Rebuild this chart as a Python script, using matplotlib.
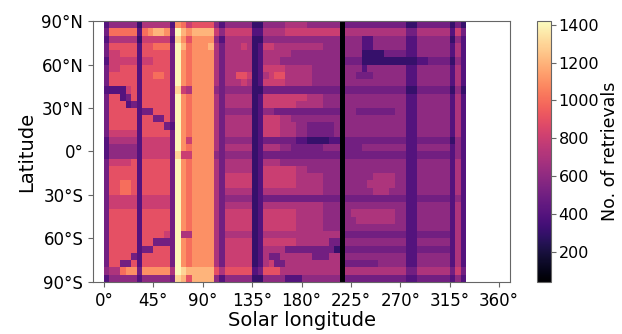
import numpy as np
import matplotlib
matplotlib.use("Agg")
import matplotlib.pyplot as plt

# Ls bins (5 deg) and latitude bins (5 deg), rows listed from 90N down to 90S
ls_edges = np.arange(0, 335, 5)
lat_edges = np.arange(90, -95, -5)

# one char per cell, hex digit * 100 retrievals ('0' = ~40)
rows = [
    "4 66666 3 77777 4 b a 8 9999 6 4 66666 33 66667777666666 0 55555555555 33 555555 3 5 3",
    "5 aaaaa 4 abccb 5 e c b cccc 8 6 88888 44 77778888888888 0 77777777777 55 777777 4 8 5",
    "4 77777 3 88888 4 d b 9 bbbb 6 4 77777 33 66666666666666 0 66644666666 44 666666 3 6 4",
    "5 99999 4 99aaa 5 e c a bbbc 7 5 77787 34 88777777777666 0 66644666666 44 666666 4 7 4",
    "5 88999 4 99999 5 e b a bbbb 7 5 77777 34 77777666666666 0 66633335555 44 666666 4 7 4",
    "4 88888 4 88999 5 e b a bbbb 7 5 77777 34 77766666666666 0 55533333333 33 445555 3 6 4",
    "5 88999 4 99999 5 e b a bbbb 7 5 77777 34 88887777766666 0 66646666666 44 666666 4 7 4",
    "5 99999 4 99aa9 5 e b a bbbb 7 5 77998 34 78997777766666 0 66555666666 44 666666 4 7 4",
    "5 99999 4 99999 5 e b a bbbb 7 5 77787 34 88887777766666 0 66666666666 44 666666 4 7 4",
    "4 44489 4 99999 5 d 8 7 bbbb 6 5 66666 33 55555555555555 0 55555555555 33 555555 3 6 3",
    "5 99459 4 99999 5 e b a bbbb 7 5 77777 34 88888888777666 0 66666666666 44 666666 4 7 4",
    "5 99945 4 99999 5 e b a bbbb 7 5 77777 34 88888877777666 0 66666666666 44 666666 4 7 4",
    "5 99999 4 55999 5 e b a bbbb 7 5 66666 34 66555555555555 0 66555555566 44 666666 4 7 4",
    "5 99999 4 99559 5 e b a bbbb 7 5 77777 34 88877666666666 0 66666666666 44 666666 4 7 4",
    "5 99999 4 99995 4 e b a bbbb 7 5 77777 34 88877766555556 0 66666666666 44 666666 4 7 4",
    "5 88888 4 99999 5 e b a bbbb 7 5 77777 34 88877766555556 0 66666666666 44 666666 4 7 4",
    "4 77777 4 88888 5 e b 8 bbbb 7 5 66666 34 55555544333344 0 55555555555 44 555555 3 6 4",
    "4 66666 4 88888 5 e b a bbbb 7 5 77777 34 77766555555666 0 55566666666 44 666666 4 6 4",
    "4 66666 4 88888 5 d 8 8 bbbb 6 5 66666 34 55555555555555 0 55555555555 44 555555 4 6 4",
    "5 88889 4 99999 5 e b a bbbb 7 5 77777 34 77766666666666 0 66666666666 44 666666 4 7 4",
    "5 99999 4 99999 5 e b a bbbb 7 5 77777 34 88888877666666 0 66666666666 44 666666 4 7 4",
    "5 99999 4 99999 5 e b a bbbb 7 5 88888 34 88888877777666 0 66666777766 44 666666 4 7 4",
    "5 99aa9 4 99999 5 e b a bbbb 7 5 88888 34 88888877777666 0 66667777766 44 666666 4 7 4",
    "5 99aa9 4 99999 5 e b a bbbb 7 5 77777 34 77777777777666 0 66666777666 44 666666 4 7 4",
    "5 88888 4 88888 5 e b a bbbb 7 5 66666 34 55555555555555 0 55555555555 44 555555 4 6 4",
    "5 88888 4 88888 5 e b a bbbb 7 5 77777 34 77777777777666 0 66666666666 44 666666 4 7 4",
    "5 99999 4 99999 5 e b a bbbb 7 5 88888 34 88888877777666 0 67777777766 44 666666 4 7 4",
    "5 99999 4 99999 5 e b a bbbb 7 5 88888 34 88888877777666 0 66777777766 44 666666 4 7 4",
    "5 99999 4 99999 5 e b a bbbb 7 5 88888 34 88888877777666 0 66666666666 44 666666 4 7 4",
    "5 99999 4 99998 5 e 7 7 bbbb 7 5 77777 34 77777777777777 0 55555555555 44 555555 4 7 4",
    "5 99999 4 99555 5 e b a bbbb 7 5 88888 34 88888877777755 0 66666666666 44 666666 4 7 4",
    "5 99999 4 55999 5 e b a bbbb 7 5 88888 34 77775555555553 0 55555555555 44 555555 4 7 4",
    "5 99995 4 99999 5 e b a bbbb 7 5 88888 34 75577777755577 0 66666666666 44 666666 4 7 4",
    "5 99559 4 99999 5 e b a bbbb 7 5 88888 34 78557777777777 0 55555566666 44 666666 4 7 4",
    "6 77abb 5 bbbbb 7 e d c cccc 9 7 99999 45 99977777777777 0 77777777777 55 777777 5 8 5",
    "4 66666 4 66666 5 d c 9 cccc 6 4 66666 33 66664446666666 0 55555555555 44 555555 4 6 4",
]

counts = []
for r in rows:
    r = r.replace(" ", "")
    assert len(r) == 66, (len(r), r)
    counts.append([max(int(c, 16) * 100, 40) for c in r])
counts = np.array(counts)

xticks = np.arange(0, 361, 45)
xlabels = [f"{t}°" for t in xticks]
yticks = [-90, -60, -30, 0, 30, 60, 90]
ylabels = ["90°S", "60°S", "30°S", "0°", "30°N", "60°N", "90°N"]

fig = plt.figure(figsize=(6.22, 3.34), dpi=100)
ax = fig.add_axes([0.1495, 0.156, 0.6705, 0.781])
mesh = ax.pcolormesh(ls_edges, lat_edges, counts, cmap="magma", vmin=40, vmax=1420)
ax.set_xlim(-10, 370)
ax.set_ylim(-90, 90)
ax.set_xticks(xticks)
ax.set_xticklabels(xlabels, fontsize=12)
ax.set_yticks(yticks)
ax.set_yticklabels(ylabels, fontsize=12)
ax.set_xlabel("Solar longitude", fontsize=14, labelpad=1)
ax.set_ylabel("Latitude", fontsize=14)
for s in ax.spines.values():
    s.set_color("0.4")
ax.tick_params(color="0.4")

cax = fig.add_axes([0.863, 0.156, 0.023, 0.781])
cb = fig.colorbar(mesh, cax=cax)
cb.set_ticks([200, 400, 600, 800, 1000, 1200, 1400])
cb.ax.tick_params(labelsize=11.5, color="0.4", pad=2)
cb.outline.set_edgecolor("0.4")
cb.set_label("No. of retrievals", fontsize=12.5, labelpad=1)

fig.savefig("out.png", dpi=100)
